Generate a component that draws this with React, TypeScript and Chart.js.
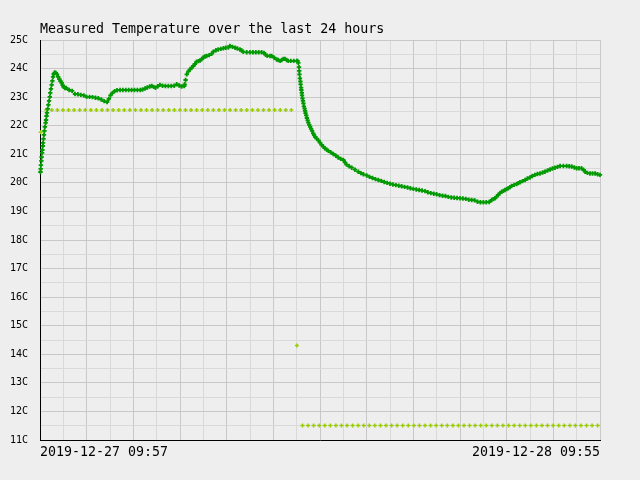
import React, { useEffect, useRef } from 'react';
import { Chart, registerables } from 'chart.js';

Chart.register(...registerables);

const TITLE = 'Measured Temperature over the last 24 hours';
const X_LABELS = ['2019-12-27 09:57', '2019-12-28 09:55'];
const Y_UNIT = 'C';
const Y_MIN = 11;
const Y_MAX = 25;
const HOURS = 24;

// measured temperature: [hours since start, degrees C]
const measured: [number, number][] = [
  [0.02, 20.38], [0.03, 20.49], [0.04, 20.62], [0.06, 20.77], [0.07, 20.9], [0.09, 21.05], [0.1, 21.15],
  [0.12, 21.29], [0.13, 21.4], [0.15, 21.54], [0.17, 21.68], [0.19, 21.82], [0.21, 21.96], [0.24, 22.1],
  [0.26, 22.2], [0.28, 22.34], [0.3, 22.45], [0.33, 22.59], [0.36, 22.73], [0.39, 22.87], [0.42, 23.01],
  [0.44, 23.15], [0.47, 23.29], [0.5, 23.43], [0.53, 23.57], [0.56, 23.71], [0.59, 23.81], [0.63, 23.86],
  [0.68, 23.85], [0.73, 23.8], [0.78, 23.71], [0.83, 23.63], [0.88, 23.56], [0.93, 23.5], [0.97, 23.42],
  [1.01, 23.36], [1.07, 23.32], [1.125, 23.32], [1.25, 23.25], [1.375, 23.22], [1.5, 23.11], [1.625, 23.1],
  [1.75, 23.08], [1.875, 23.06], [2.0, 23.01], [2.125, 23.01], [2.25, 23.0], [2.375, 22.98], [2.5, 22.96],
  [2.625, 22.92], [2.75, 22.86], [2.875, 22.83], [2.95, 22.94], [3.02, 23.06], [3.1, 23.14], [3.2, 23.21],
  [3.3, 23.24], [3.43, 23.25], [3.55, 23.25], [3.675, 23.25], [3.8, 23.25], [3.925, 23.25], [4.05, 23.25],
  [4.175, 23.25], [4.3, 23.25], [4.4, 23.27], [4.5, 23.3], [4.6, 23.34], [4.7, 23.37], [4.79, 23.39],
  [4.875, 23.36], [4.95, 23.33], [5.05, 23.38], [5.14, 23.43], [5.25, 23.4], [5.375, 23.39], [5.5, 23.39],
  [5.625, 23.39], [5.75, 23.4], [5.86, 23.45], [5.96, 23.41], [6.07, 23.37], [6.18, 23.39], [6.2, 23.45],
  [6.24, 23.6], [6.29, 23.8], [6.36, 23.9], [6.43, 23.97], [6.5, 24.03], [6.57, 24.09], [6.64, 24.16],
  [6.71, 24.24], [6.79, 24.26], [6.86, 24.28], [6.93, 24.33], [7.0, 24.39], [7.07, 24.42], [7.14, 24.44],
  [7.25, 24.47], [7.36, 24.52], [7.43, 24.59], [7.54, 24.64], [7.64, 24.67], [7.75, 24.69], [7.86, 24.71],
  [7.96, 24.73], [8.07, 24.74], [8.14, 24.79], [8.25, 24.76], [8.36, 24.73], [8.46, 24.7], [8.57, 24.67],
  [8.64, 24.63], [8.71, 24.59], [8.86, 24.57], [9.0, 24.57], [9.125, 24.57], [9.25, 24.57], [9.375, 24.57],
  [9.5, 24.57], [9.6, 24.55], [9.67, 24.48], [9.74, 24.45], [9.86, 24.44], [9.93, 24.44], [10.04, 24.38],
  [10.14, 24.32], [10.21, 24.3], [10.29, 24.27], [10.36, 24.3], [10.43, 24.34], [10.5, 24.34], [10.57, 24.3],
  [10.64, 24.27], [10.75, 24.27], [10.875, 24.27], [11.0, 24.27], [11.04, 24.27],
  [11.07, 24.2], [11.1, 24.05], [11.11, 23.92], [11.12, 23.8], [11.14, 23.66], [11.16, 23.55], [11.17, 23.45],
  [11.19, 23.33], [11.2, 23.25], [11.22, 23.15], [11.23, 23.06], [11.25, 22.96], [11.27, 22.87], [11.29, 22.78],
  [11.31, 22.68], [11.34, 22.6], [11.36, 22.52], [11.38, 22.44], [11.41, 22.36], [11.44, 22.27], [11.47, 22.19],
  [11.5, 22.11], [11.54, 22.03], [11.58, 21.96], [11.62, 21.89], [11.66, 21.82], [11.71, 21.73], [11.75, 21.67],
  [11.79, 21.61], [11.86, 21.55], [11.93, 21.49], [12.0, 21.41], [12.07, 21.33], [12.14, 21.27], [12.21, 21.21],
  [12.29, 21.16], [12.36, 21.12], [12.46, 21.07], [12.57, 21.01], [12.68, 20.95], [12.78, 20.89], [12.89, 20.84],
  [13.0, 20.8], [13.07, 20.72], [13.14, 20.64], [13.25, 20.58], [13.36, 20.53], [13.5, 20.46], [13.64, 20.39],
  [13.75, 20.34], [13.86, 20.3], [14.0, 20.26], [14.125, 20.21], [14.25, 20.17], [14.375, 20.13], [14.5, 20.1],
  [14.625, 20.07], [14.75, 20.03], [14.875, 20.0], [15.0, 19.97], [15.125, 19.94], [15.25, 19.92], [15.375, 19.9],
  [15.5, 19.88], [15.625, 19.86], [15.75, 19.84], [15.875, 19.81], [16.0, 19.79], [16.125, 19.77], [16.25, 19.75],
  [16.375, 19.73], [16.5, 19.71], [16.625, 19.67], [16.75, 19.64], [16.875, 19.62], [17.0, 19.6], [17.125, 19.57],
  [17.25, 19.55], [17.375, 19.54], [17.5, 19.51], [17.625, 19.49], [17.75, 19.48], [17.875, 19.47], [18.0, 19.46],
  [18.125, 19.45], [18.25, 19.44], [18.375, 19.41], [18.5, 19.4], [18.625, 19.39], [18.75, 19.34], [18.875, 19.32],
  [19.0, 19.32], [19.125, 19.32], [19.25, 19.33], [19.36, 19.4], [19.43, 19.43], [19.5, 19.46], [19.57, 19.52],
  [19.64, 19.58], [19.71, 19.64], [19.79, 19.69], [19.86, 19.72], [19.93, 19.75], [20.0, 19.78], [20.07, 19.81],
  [20.14, 19.85], [20.21, 19.89], [20.32, 19.93], [20.43, 19.96], [20.5, 19.99], [20.57, 20.02], [20.68, 20.06],
  [20.79, 20.1], [20.89, 20.15], [21.0, 20.19], [21.1, 20.24], [21.21, 20.28], [21.32, 20.31], [21.43, 20.33],
  [21.54, 20.36], [21.64, 20.39], [21.75, 20.43], [21.86, 20.47], [21.96, 20.5], [22.07, 20.53], [22.18, 20.56],
  [22.29, 20.59], [22.43, 20.59], [22.57, 20.59], [22.68, 20.58], [22.79, 20.57], [22.9, 20.54], [23.0, 20.51],
  [23.1, 20.51], [23.21, 20.51], [23.3, 20.45], [23.36, 20.39], [23.46, 20.35], [23.57, 20.33], [23.68, 20.33],
  [23.79, 20.33], [23.9, 20.3], [24.0, 20.28],
];

// second series, sampled at a fixed interval
const setpointStart = 0.03; // hours
const setpointInterval = 0.2387; // hours
const setpoint: number[] = [
  21.77,
  22.55, 22.55, 22.55, 22.55, 22.55, 22.55, 22.55, 22.55, 22.55,
  22.55, 22.55, 22.55, 22.55, 22.55, 22.55, 22.55, 22.55, 22.55,
  22.55, 22.55, 22.55, 22.55, 22.55, 22.55, 22.55, 22.55, 22.55,
  22.55, 22.55, 22.55, 22.55, 22.55, 22.55, 22.55, 22.55, 22.55,
  22.55, 22.55, 22.55, 22.55, 22.55, 22.55, 22.55, 22.55, 22.55,
  14.31,
  11.51, 11.51, 11.51, 11.51, 11.51, 11.51, 11.51, 11.51, 11.51,
  11.51, 11.51, 11.51, 11.51, 11.51, 11.51, 11.51, 11.51, 11.51,
  11.51, 11.51, 11.51, 11.51, 11.51, 11.51, 11.51, 11.51, 11.51,
  11.51, 11.51, 11.51, 11.51, 11.51, 11.51, 11.51, 11.51, 11.51,
  11.51, 11.51, 11.51, 11.51, 11.51, 11.51, 11.51, 11.51, 11.51,
  11.51, 11.51, 11.51, 11.51, 11.51, 11.51, 11.51, 11.51, 11.51,
];

const BG = '#eeeeee';
const GRID_MAJOR = '#c8c8c8';
const GRID_MINOR = '#d9d9d9';
const GREEN = '#009900';
const YELLOW = '#99cc00';
const MONO = "'DejaVu Sans Mono', 'Liberation Mono', monospace";

export default function App() {
  const ref = useRef<HTMLCanvasElement | null>(null);

  useEffect(() => {
    if (!ref.current) return;

    const bgPlugin = {
      id: 'bg',
      beforeDraw(chart: any) {
        const c = chart.ctx;
        c.save();
        c.fillStyle = BG;
        c.fillRect(0, 0, chart.width, chart.height);
        c.restore();
      },
    };
    const titlePlugin = {
      id: 'leftTitle',
      afterDraw(chart: any) {
        const c = chart.ctx;
        c.save();
        c.fillStyle = '#000';
        c.font = `13.3px ${MONO}`;
        c.textAlign = 'left';
        c.textBaseline = 'alphabetic';
        c.fillText(TITLE, chart.chartArea.left, 33);
        c.restore();
      },
    };

    const chart = new Chart(ref.current, {
      type: 'scatter',
      data: {
        datasets: [
          {
            label: 'measured',
            data: measured.map(([x, y]) => ({ x, y })),
            pointStyle: 'cross',
            pointRadius: 2.2,
            pointBorderWidth: 1.8,
            borderColor: GREEN,
            backgroundColor: GREEN,
            showLine: false,
            clip: false,
          },
          {
            label: 'setpoint',
            data: setpoint.map((y, i) => ({ x: setpointStart + i * setpointInterval, y })),
            pointStyle: 'cross',
            pointRadius: 2,
            pointBorderWidth: 1.4,
            borderColor: YELLOW,
            backgroundColor: YELLOW,
            showLine: false,
            clip: false,
          },
        ],
      },
      options: {
        responsive: false,
        animation: false,
        devicePixelRatio: 1,
        events: [],
        layout: { padding: { left: 0, top: 40, right: 40, bottom: 0 } },
        plugins: {
          legend: { display: false },
          tooltip: { enabled: false },
          title: { display: false },
        },
        scales: {
          x: {
            type: 'linear',
            min: 0,
            max: HOURS,
            ticks: {
              stepSize: 1,
              autoSkip: false,
              maxRotation: 0,
              minRotation: 0,
              align: 'inner',
              padding: 5,
              color: '#000',
              font: { family: MONO, size: 13.3 },
              callback: (v: any) => (v === 0 ? X_LABELS[0] : v === HOURS ? X_LABELS[1] : ''),
            },
            grid: {
              drawTicks: false,
              lineWidth: 1,
              color: (ctx: any) => (ctx.tick && ctx.tick.value % 2 !== 0 ? GRID_MINOR : GRID_MAJOR),
            },
            border: { display: true, color: '#000', width: 1 },
            afterFit: (s: any) => {
              s.height = 40;
            },
          },
          y: {
            type: 'linear',
            min: Y_MIN,
            max: Y_MAX,
            ticks: {
              stepSize: 0.5,
              autoSkip: false,
              padding: 12,
              color: '#000',
              font: { family: MONO, size: 10 },
              callback: (v: any) => (Number.isInteger(v) ? `${v}${Y_UNIT}` : ''),
            },
            grid: {
              drawTicks: false,
              lineWidth: 1,
              color: (ctx: any) => (ctx.tick && !Number.isInteger(ctx.tick.value) ? GRID_MINOR : GRID_MAJOR),
            },
            border: { display: true, color: '#000', width: 1 },
            afterFit: (s: any) => {
              s.width = 40;
            },
          },
        },
      } as any,
      plugins: [bgPlugin, titlePlugin],
    });

    return () => chart.destroy();
  }, []);

  return (
    <div style={{ position: 'fixed', left: 0, top: 0, width: 640, height: 480, background: BG }}>
      <canvas ref={ref} width={640} height={480} style={{ display: 'block' }} />
    </div>
  );
}
